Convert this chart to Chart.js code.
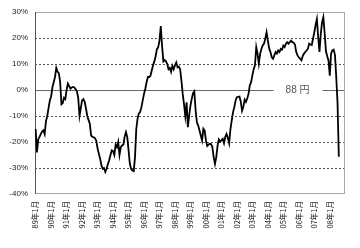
<!DOCTYPE html>
<html>
<head>
<meta charset="utf-8">
<script src="https://cdn.jsdelivr.net/npm/chart.js@4/dist/chart.umd.min.js"></script>
<style>
html,body{margin:0;padding:0;background:#fff;}
#c{display:block;}
</style>
</head>
<body>
<canvas id="c" width="360" height="248"></canvas>
<script>
// Year labels shown on the category axis (January of each year)
const yearLabels = ['89','90','91','92','93','94','95','96','97','98','99','00','01','02','03','04','05','06','07','08'];
const tickLabels = yearLabels.map(y => y + '年1月');
const yTicks = [30, 20, 10, 0, -10, -20, -30, -40];
const refLabel = '88 円';

// Monthly deviation (%) from Jan 1989
const values = [
  -15, -24, -19, -18, -17, -16, -15.5, -17, -12, -10, -7, -4,          // 1989
  -2.5, 1, 3, 5, 8.5, 7, 6.5, 3, -5.5, -5, -3, -3.5,                  // 1990
  0, 2.5, 1.5, 0.5, 1, 1.2, 1, 0.3, -0.5, -3, -10, -7,                // 1991
  -4, -3.5, -4.5, -7, -10, -11.5, -13, -17.5, -18, -18.2, -18.5, -19.5, // 1992
  -22.5, -24.5, -26.5, -29, -30.3, -30, -31.5, -30.3, -28.5, -27, -25, -23.2, // 1993
  -23.5, -25, -21, -22, -20, -25, -22, -21.3, -21, -18, -16.2, -18,  // 1994
  -23, -28.4, -30.3, -31, -31.2, -26, -15, -11, -9, -8.5, -6.6, -4,  // 1995
  -1.5, 0.5, 3, 5, 5, 5.5, 7.5, 9.5, 11, 13, 15.7, 16.5,             // 1996
  19, 24.6, 17, 11, 11.5, 11, 10, 8, 8.5, 7, 9.3, 8,                 // 1997
  9.5, 10.6, 8.7, 9, 8, 3.6, -1.5, -5.4, -10, -4.7, -14.3, -9.8,     // 1998
  -6, -3.4, -1.2, -0.5, -7.9, -12.4, -13.7, -15.6, -17.5, -19.4, -14.9, -15.6, // 1999
  -19.4, -21.5, -21, -20.7, -20.8, -22, -25.8, -28.4, -25.8, -21.5, -19, -19.8, // 2000
  -19.4, -18.8, -20.5, -18, -16.9, -18.5, -20.5, -15, -11.7, -8.5, -6.6, -4, // 2001
  -2.8, -2.6, -2.5, -4.5, -8, -6.5, -3.7, -4.6, -3.3, -1.5, 1.8, 3,  // 2002
  5.6, 8, 9.5, 16.5, 14, 10.1, 13.9, 15.8, 17.1, 17.8, 19.7, 22.2,   // 2003
  19, 16, 14.6, 12.6, 12, 13.3, 14.6, 14, 15.2, 14.6, 15.8, 15.5,    // 2004
  17.1, 16.5, 17.8, 18.4, 17.8, 18.4, 19, 18.4, 18.2, 17.5, 14.6, 13.3, // 2005
  12.6, 12, 11.4, 13, 14, 14.6, 15.2, 15.8, 17.8, 17.5, 17.3, 19.7,  // 2006
  22.2, 25, 27.3, 20.3, 14.6, 21.5, 26, 28, 22, 15, 13, 11.4,        // 2007
  5.5, 14, 15.2, 15.5, 13.5, 5, -5, -25.7                             // 2008
];

// monthly categories: Jan 1989 .. Dec 2008
const categories = [];
yearLabels.forEach(y => { for (let m = 1; m <= 12; m++) categories.push(y + '年' + m + '月'); });

const frame = {
  id: 'frame',
  beforeDatasetsDraw(chart) {
    const {ctx, chartArea: a, scales} = chart;
    const y0 = Math.round(scales.y.getPixelForValue(0)) + 0.5;
    ctx.save();
    ctx.strokeStyle = '#6a6a6a';
    ctx.lineWidth = 1;
    ctx.beginPath();
    ctx.moveTo(a.left, y0); ctx.lineTo(a.right, y0);
    ctx.stroke();
    const lx = scales.x.getPixelForValue(203);
    ctx.font = '10px "Liberation Sans", Arial, "Noto Sans CJK JP", sans-serif';
    ctx.fillStyle = '#fff';
    ctx.fillRect(lx - 24, y0 - 6, 49, 12);
    ctx.fillStyle = '#555';
    ctx.textAlign = 'center';
    ctx.textBaseline = 'middle';
    ctx.fillText(refLabel, lx, y0);
    ctx.strokeStyle = '#a8a8a8';
    ctx.strokeRect(Math.round(a.left) + 0.5, Math.round(a.top) + 0.5, Math.round(a.right - a.left) - 1, Math.round(a.bottom - a.top) - 1);
    ctx.strokeStyle = '#555';
    ctx.beginPath();
    ctx.moveTo(Math.round(a.left) + 0.5, a.top); ctx.lineTo(Math.round(a.left) + 0.5, a.bottom);
    ctx.stroke();
    ctx.restore();
  }
};

new Chart(document.getElementById('c'), {
  type: 'line',
  data: {
    labels: categories,
    datasets: [{
      data: values,
      borderColor: '#000',
      borderWidth: 1.8,
      pointRadius: 0,
      tension: 0,
      fill: false
    }]
  },
  options: {
    responsive: false,
    devicePixelRatio: 1,
    animation: false,
    layout: { padding: { top: 12, right: 8, left: 0, bottom: 0 } },
    plugins: { legend: { display: false }, tooltip: { enabled: false } },
    scales: {
      x: {
        type: 'category',
        offset: true,
        grid: { display: false, drawTicks: false },
        border: { display: false },
        afterFit(s) { s.height = 54; },
        ticks: {
          autoSkip: false,
          minRotation: 90,
          maxRotation: 90,
          padding: 7,
          color: '#222',
          font: { family: '"Noto Sans CJK JP", sans-serif', size: 7.5 },
          callback(v, i) {
            const lab = categories[i];
            return lab.endsWith('年1月') ? tickLabels[Math.floor(i / 12)] : '';
          }
        }
      },
      y: {
        min: -40,
        max: 30,
        afterFit(s) { s.width = 35; },
        afterBuildTicks(s) { s.ticks = yTicks.map(v => ({ value: v })); },
        grid: {
          drawTicks: false,
          color(c) { const v = c.tick.value; return (v === 0 || v === 30 || v === -40) ? 'rgba(0,0,0,0)' : '#555'; },
          lineWidth: 1
        },
        border: { display: false, dash: [2, 2] },
        ticks: {
          padding: 7,
          color: '#222',
          font: { family: '"Liberation Sans", Arial, sans-serif', size: 8 },
          callback(v) { return v + '%'; }
        }
      }
    }
  },
  plugins: [frame]
});
</script>
</body>
</html>
